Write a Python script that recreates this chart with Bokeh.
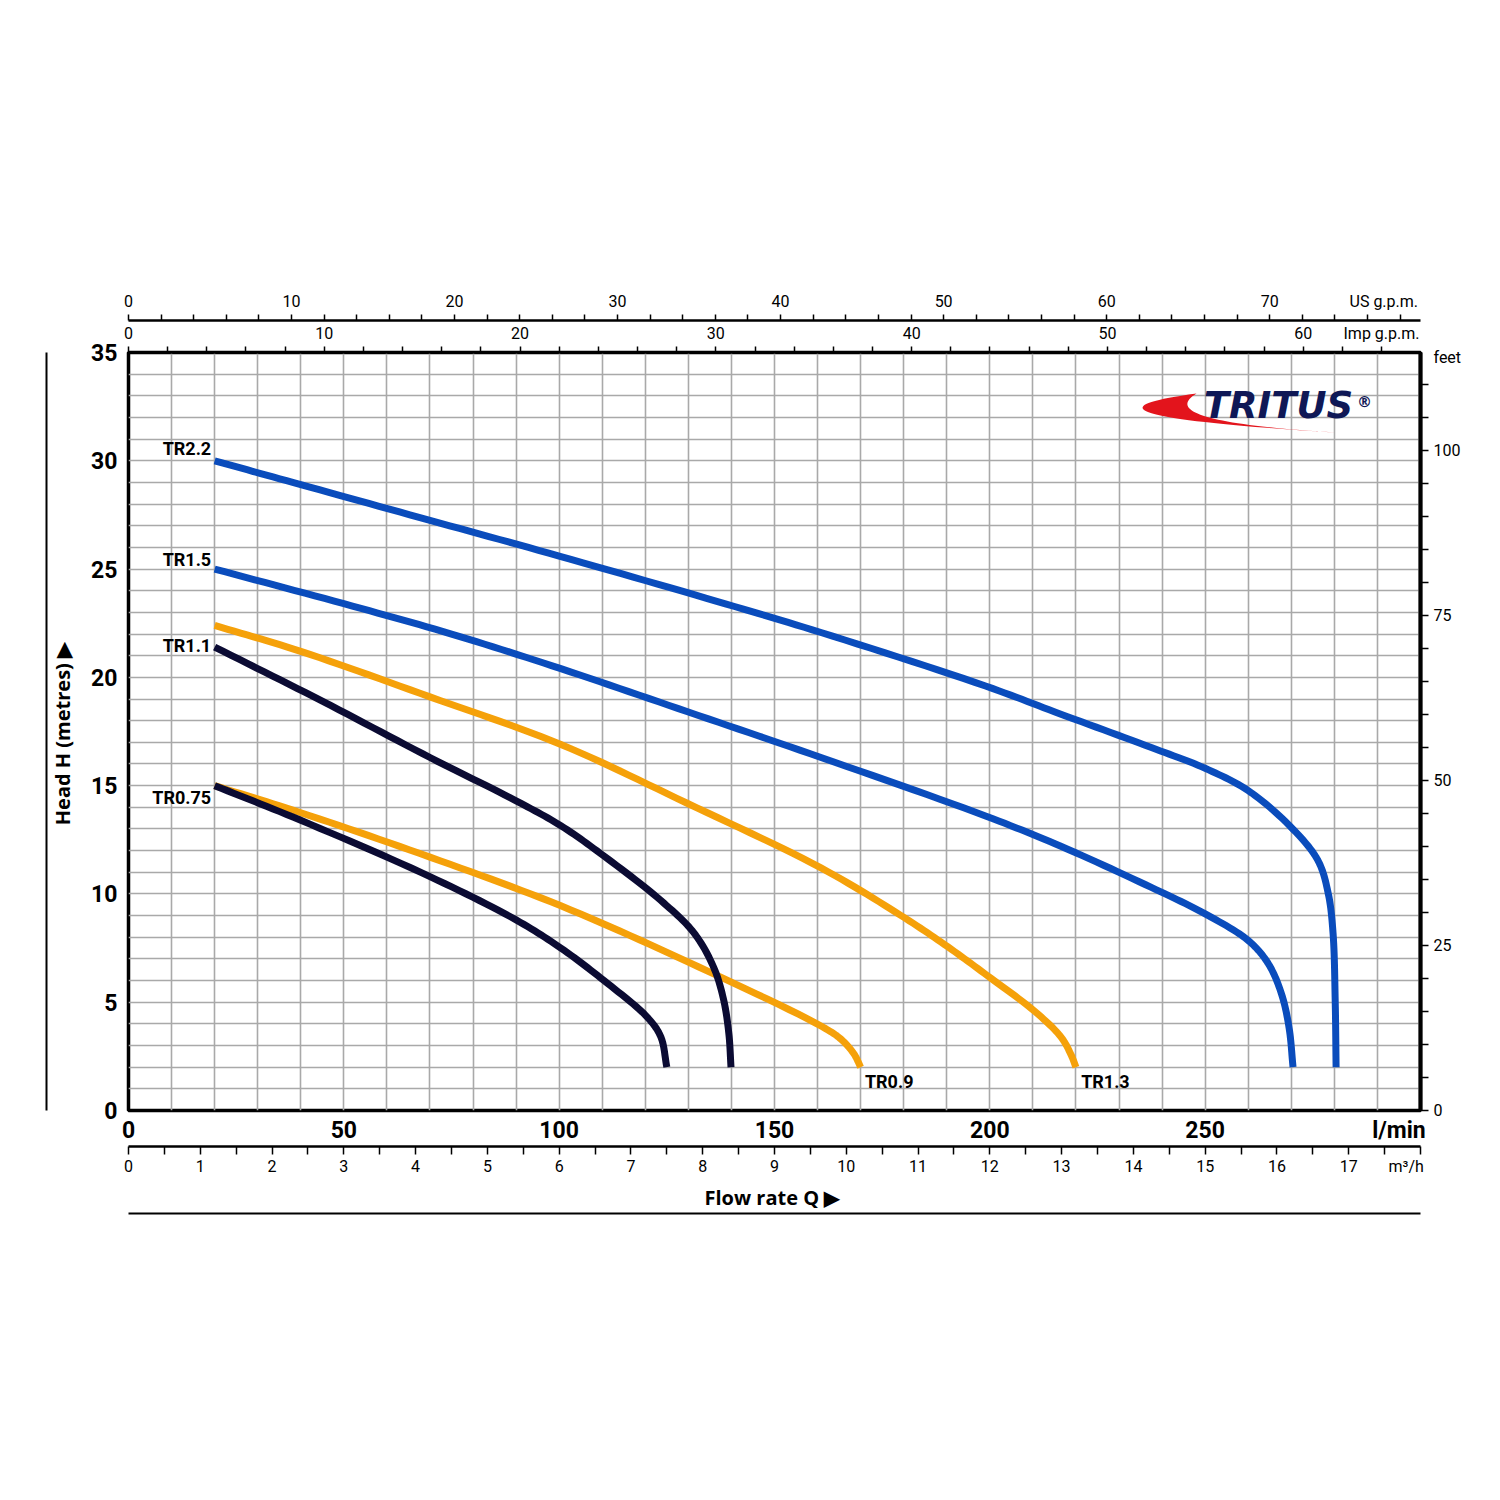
import numpy as np
from bokeh.plotting import figure
from bokeh.models import Range1d, LinearAxis, FixedTicker, Label, ColumnDataSource
from bokeh.core.properties import value
from bokeh.embed import file_html
from bokeh.resources import INLINE

# ---------------- data (flow in l/min, head in metres) ----------------
tr22_q = [20, 40, 70, 100, 136.8, 160.8, 199, 216.5, 237.5, 250, 260, 270, 276.2, 278.6, 279.7, 280.2, 280.4]
tr22_h = [30.0, 28.9, 27.25, 25.6, 23.5, 22.07, 19.6, 18.3, 16.76, 15.8, 14.77, 13.07, 11.54, 10.0, 8.17, 5.0, 2.0]

tr15_q = [20, 50, 75, 100.4, 130, 160.8, 199, 216.5, 237.5, 249.8, 260, 264.6, 267.7, 269.5, 270.4]
tr15_h = [25.0, 23.4, 22.0, 20.4, 18.4, 16.3, 13.6, 12.2, 10.3, 9.1, 7.85, 6.8, 5.4, 3.8, 2.0]

tr13_q = [20, 40, 70, 100.4, 129.6, 160.8, 179.4, 190.3, 200.3, 210.3, 216.5, 218.8, 220]
tr13_h = [22.4, 21.2, 19.1, 16.9, 14.2, 11.2, 9.0, 7.55, 6.1, 4.6, 3.4, 2.6, 2.0]

tr11_q = [20, 45, 70, 90, 100.4, 110.4, 123.6, 131.3, 135.9, 138.2, 139.4, 139.9]
tr11_h = [21.4, 18.9, 16.3, 14.3, 13.15, 11.75, 9.7, 8.2, 6.6, 5.1, 3.55, 2.0]

tr09_q = [20, 40, 70, 100.4, 130, 160.8, 165.4, 168.5, 170]
tr09_h = [15.0, 13.75, 11.7, 9.45, 6.85, 3.9, 3.3, 2.6, 2.0]

tr075_q = [20, 40, 70, 90, 100.4, 110.4, 120.5, 123.6, 125]
tr075_h = [15.0, 13.4, 10.8, 8.8, 7.5, 6.0, 4.3, 3.4, 2.0]

curve_names = ["TR2.2", "TR1.5", "TR1.3", "TR1.1", "TR0.9", "TR0.75"]

# axis tick values
ylab_ticks = [0, 5, 10, 15, 20, 25, 30, 35]
lmin_ticks = [0, 50, 100, 150, 200, 250]
m3h_ticks = list(range(0, 18))
usgpm_ticks = [0, 10, 20, 30, 40, 50, 60, 70]
impgpm_ticks = [0, 10, 20, 30, 40, 50, 60]
feet_ticks = [0, 25, 50, 75, 100]

BLUE = "#0a4cbc"
ORANGE = "#f5a10a"
NAVY = "#0b0b33"
GRID = "#a9a9a9"
COND = "Roboto"
HUM = "Open Sans"

# px per unit in the frame (used only for the smoothing metric and the logo)
SX, SY = 1292 / 300.0, 758 / 35.0

p = figure(width=1492, height=1492, x_range=Range1d(0, 300), y_range=Range1d(0, 35),
           output_backend="svg", toolbar_location=None,
           min_border_left=128, min_border_right=72, min_border_top=352, min_border_bottom=382,
           background_fill_color="white", border_fill_color="white")
p.outline_line_color = "black"
p.outline_line_width = 3.5

p.extra_x_ranges = {"us": Range1d(0, 300 / 3.785411784), "imp": Range1d(0, 300 / 4.54609),
                    "m3h": Range1d(0, 18), "deco": Range1d(0, 1)}
p.extra_y_ranges = {"ft": Range1d(0, 35 / 0.3048), "decoy": Range1d(0, 1)}

# grid
p.xgrid.ticker = FixedTicker(ticks=list(range(0, 301, 10)))
p.ygrid.ticker = FixedTicker(ticks=list(range(0, 36)))
for g in (p.xgrid[0], p.ygrid[0]):
    g.grid_line_color = GRID
    g.grid_line_width = 1.6

# left axis (metres)
ya = p.yaxis[0]
ya.ticker = FixedTicker(ticks=ylab_ticks)
ya.axis_line_color = None
ya.major_tick_line_color = None
ya.minor_tick_line_color = None
ya.major_label_text_font = COND
ya.major_label_text_font_style = "bold"
ya.major_label_text_font_size = "23px"
ya.major_label_text_color = "black"
ya.major_label_standoff = 5
ya.axis_label = "Head H (metres)  \u25B6"
ya.axis_label_text_font = HUM
ya.axis_label_text_font_style = "bold"
ya.axis_label_text_font_size = "20px"
ya.axis_label_text_color = "black"
ya.axis_label_standoff = 12

# decorative outer line on the left
dl = LinearAxis(y_range_name="decoy", ticker=FixedTicker(ticks=[]), axis_line_width=2,
                axis_line_color="black", major_tick_line_color=None, minor_tick_line_color=None)
p.add_layout(dl, "left")

# bottom axis (l/min)
xa = p.xaxis[0]
xa.ticker = FixedTicker(ticks=lmin_ticks + [295])
xa.major_label_overrides = {295: "l/min"}
xa.axis_line_color = None
xa.major_tick_line_color = None
xa.minor_tick_line_color = None
xa.major_label_text_font = COND
xa.major_label_text_font_style = "bold"
xa.major_label_text_font_size = "23px"
xa.major_label_text_color = "black"
xa.major_label_standoff = 0

# bottom axis (m3/h)
ma = LinearAxis(x_range_name="m3h",
                ticker=FixedTicker(ticks=m3h_ticks + [17.8], minor_ticks=list(np.arange(0, 18.01, 0.5))))
ma.major_label_overrides = {17.8: "m\u00B3/h"}
ma.axis_line_width = 2.5
ma.major_tick_in = 0
ma.major_tick_out = 0
ma.minor_tick_in = 0
ma.minor_tick_out = 8
ma.minor_tick_line_width = 1.5
ma.major_label_text_font = COND
ma.major_label_text_font_size = "16px"
ma.major_label_text_color = "black"
ma.major_label_standoff = 2
ma.axis_label = "Flow rate Q  \u25B6"
ma.axis_label_text_font = HUM
ma.axis_label_text_font_style = "bold"
ma.axis_label_text_font_size = "20px"
ma.axis_label_text_color = "black"
ma.axis_label_standoff = 5
p.add_layout(ma, "below")

# decorative outer line at the bottom
db = LinearAxis(x_range_name="deco", ticker=FixedTicker(ticks=[]), axis_line_width=2,
                axis_line_color="black", major_tick_line_color=None, minor_tick_line_color=None)
p.add_layout(db, "below")

# top axes
def top_axis(rname, ticks, maxminor, unit_pos, unit_text):
    ax = LinearAxis(x_range_name=rname,
                    ticker=FixedTicker(ticks=ticks + [unit_pos],
                                       minor_ticks=list(range(0, maxminor + 1, 2))))
    ax.major_label_overrides = {unit_pos: unit_text}
    ax.axis_line_width = 2.5
    ax.major_tick_in = 0
    ax.major_tick_out = 0
    ax.minor_tick_in = 0
    ax.minor_tick_out = 6
    ax.minor_tick_line_width = 1.5
    ax.major_label_text_font = COND
    ax.major_label_text_font_size = "16px"
    ax.major_label_text_color = "black"
    ax.major_label_standoff = 4
    return ax

ia = top_axis("imp", impgpm_ticks, 64, 64, "Imp g.p.m.")
p.add_layout(ia, "above")
ua = top_axis("us", usgpm_ticks, 78, 77, "US g.p.m.")
p.add_layout(ua, "above")

# right axis (feet)
fa = LinearAxis(y_range_name="ft",
                ticker=FixedTicker(ticks=feet_ticks + [114], minor_ticks=list(range(0, 111, 5))))
fa.major_label_overrides = {114: "feet"}
fa.axis_line_width = 4
fa.major_tick_in = 0
fa.major_tick_out = 0
fa.minor_tick_in = 0
fa.minor_tick_out = 8
fa.minor_tick_line_width = 1.5
fa.major_label_text_font = COND
fa.major_label_text_font_size = "16px"
fa.major_label_text_color = "black"
fa.major_label_standoff = 5
p.add_layout(fa, "right")

# smooth rendering of each read curve (centripetal Catmull-Rom through the read points)
def smooth(q, h, n=14):
    P = np.column_stack([np.asarray(q, float) * SX, np.asarray(h, float) * SY])
    P = np.vstack([2 * P[0] - P[1], P, 2 * P[-1] - P[-2]])
    xs, ys = [], []
    for i in range(1, len(P) - 2):
        p0, p1, p2, p3 = P[i - 1], P[i], P[i + 1], P[i + 2]
        t0 = 0.0
        t1 = t0 + np.linalg.norm(p1 - p0) ** 0.5
        t2 = t1 + np.linalg.norm(p2 - p1) ** 0.5
        t3 = t2 + np.linalg.norm(p3 - p2) ** 0.5
        tt = np.linspace(t1, t2, n)[:, None]
        a1 = (t1 - tt) / (t1 - t0) * p0 + (tt - t0) / (t1 - t0) * p1
        a2 = (t2 - tt) / (t2 - t1) * p1 + (tt - t1) / (t2 - t1) * p2
        a3 = (t3 - tt) / (t3 - t2) * p2 + (tt - t2) / (t3 - t2) * p3
        b1 = (t2 - tt) / (t2 - t0) * a1 + (tt - t0) / (t2 - t0) * a2
        b2 = (t3 - tt) / (t3 - t1) * a2 + (tt - t1) / (t3 - t1) * a3
        c = (t2 - tt) / (t2 - t1) * b1 + (tt - t1) / (t2 - t1) * b2
        start = 0 if i == 1 else 1
        xs.extend(c[start:, 0] / SX)
        ys.extend(c[start:, 1] / SY)
    return xs, ys

lw = 7
for q, h, c in [(tr22_q, tr22_h, BLUE), (tr15_q, tr15_h, BLUE), (tr13_q, tr13_h, ORANGE),
                (tr09_q, tr09_h, ORANGE), (tr11_q, tr11_h, NAVY), (tr075_q, tr075_h, NAVY)]:
    sx_, sy_ = smooth(q, h)
    p.line(sx_, sy_, line_color=c, line_width=lw, line_join="round")

# curve labels
left_src = ColumnDataSource(dict(
    x=[tr22_q[0] - 0.8, tr15_q[0] - 0.8, tr11_q[0] - 0.8, tr075_q[0] - 0.8],
    y=[tr22_h[0] + 0.55, tr15_h[0] + 0.45, tr11_h[0] + 0.05, tr075_h[0] - 0.55],
    t=["TR2.2", "TR1.5", "TR1.1", "TR0.75"]))
p.text("x", "y", text="t", source=left_src, text_align="right", text_baseline="middle",
       text_font=value(COND), text_font_style="bold", text_font_size="18px", text_color="black")
end_src = ColumnDataSource(dict(
    x=[tr09_q[-1] + 1.0, tr13_q[-1] + 1.2],
    y=[1.35, 1.35],
    t=["TR0.9", "TR1.3"]))
p.text("x", "y", text="t", source=end_src, text_align="left", text_baseline="middle",
       text_font=value(COND), text_font_style="bold", text_font_size="18px", text_color="black")

# logo (swoosh + wordmark)
def px2d(px, py):
    return (np.asarray(px) - 128) / SX, (1110 - np.asarray(py)) / SY

t = np.linspace(0, 1, 40)
def qbez(p0, c, p2):
    x = (1 - t) ** 2 * p0[0] + 2 * t * (1 - t) * c[0] + t ** 2 * p2[0]
    y = (1 - t) ** 2 * p0[1] + 2 * t * (1 - t) * c[1] + t ** 2 * p2[1]
    return x, y
ox, oy = qbez((1196, 393), (1040, 414), (1335, 432))
ix, iy = qbez((1335, 432), (1150, 421), (1196, 393))
lsx, lsy = px2d(np.concatenate([ox, ix]), np.concatenate([oy, iy]))
p.patch(lsx, lsy, fill_color="#e3141c", line_color=None)
lx, ly = px2d(1278, 405)
p.add_layout(Label(x=float(lx), y=float(ly), text="TRITUS", text_align="center", text_baseline="middle",
                   text_font="DejaVu Sans", text_font_style="bold italic", text_font_size="37px",
                   text_color="#0f1856"))
rx, ry = px2d(1364, 401)
p.add_layout(Label(x=float(rx), y=float(ry), text="\u00AE", text_align="center", text_baseline="middle",
                   text_font="DejaVu Sans", text_font_style="bold", text_font_size="15px",
                   text_color="#0f1856"))

open("out.html", "w").write(file_html(p, INLINE))
